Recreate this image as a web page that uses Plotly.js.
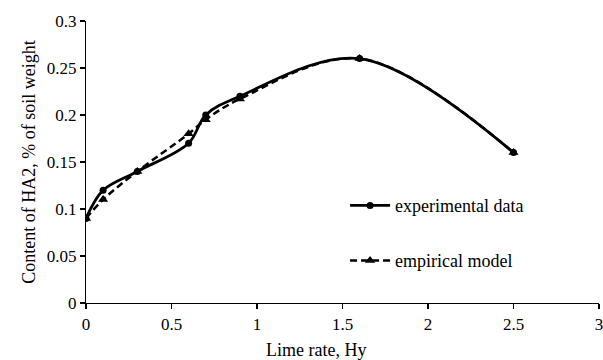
<!DOCTYPE html>
<html><head><meta charset="utf-8">
<script src="https://cdn.plot.ly/plotly-3.0.1.min.js"></script>
<style>body{margin:0;padding:0;background:#fff}#c{width:603px;height:360px}</style>
</head><body><div id="c"></div>
<script>
var limeRate = [0, 0.1, 0.3, 0.6, 0.7, 0.9, 1.6, 2.5];
var experimental = [0.09, 0.12, 0.14, 0.17, 0.20, 0.22, 0.26, 0.16];
var empirical = [0.09, 0.11, 0.14, 0.18, 0.195, 0.217, 0.26, 0.16];
var xTicks = [0, 0.5, 1, 1.5, 2, 2.5, 3];
var yTicks = [0, 0.05, 0.1, 0.15, 0.2, 0.25, 0.3];

var font = {family: '"Liberation Serif", "Times New Roman", serif', color: '#000'};

var traces = [
  {x: limeRate, y: experimental, name: 'experimental data', type: 'scatter', mode: 'lines+markers',
   line: {color: '#000', width: 2.8, shape: 'spline', smoothing: 1},
   marker: {symbol: 'circle', size: 7, color: '#000'}, legend: 'legend'},
  {x: limeRate, y: empirical, name: 'empirical model', type: 'scatter', mode: 'lines+markers',
   line: {color: '#000', width: 2.5, dash: '7px,4px', shape: 'spline', smoothing: 1},
   marker: {symbol: 'triangle-up', size: 9, color: '#000'}, legend: 'legend2'}
];

var axisCommon = {showgrid: false, zeroline: false, showline: true, linecolor: '#000', linewidth: 1.2,
  ticks: 'outside', ticklen: 5, tickcolor: '#000', tickwidth: 1.2, ticklabeloverflow: 'allow',
  tickfont: Object.assign({size: 17}, font)};

var legendCommon = {bgcolor: 'rgba(0,0,0,0)', font: Object.assign({size: 18}, font),
  xanchor: 'left', yanchor: 'middle', itemwidth: 40};

var layout = {
  width: 603, height: 360,
  margin: {l: 86, r: 4, t: 21, b: 57},
  paper_bgcolor: '#fff', plot_bgcolor: '#fff',
  showlegend: true,
  font: font,
  xaxis: Object.assign({}, axisCommon, {range: [0, 3], tickvals: xTicks, ticktext: xTicks.map(String)}),
  yaxis: Object.assign({}, axisCommon, {range: [0, 0.3], tickvals: yTicks, ticktext: yTicks.map(String),
    title: {text: 'Content of HA2, % of soil weight', font: Object.assign({size: 18}, font), standoff: 6}}),
  legend: Object.assign({}, legendCommon, {x: 0.505, y: 0.345}),
  legend2: Object.assign({}, legendCommon, {x: 0.505, y: 0.15}),
  annotations: [{text: 'Lime rate, Hy', xref: 'paper', yref: 'paper', x: 0.448, y: -0.165,
    xanchor: 'center', yanchor: 'middle', showarrow: false, font: Object.assign({size: 18}, font)}]
};

Plotly.newPlot('c', traces, layout, {displayModeBar: false, staticPlot: true});
</script></body></html>
